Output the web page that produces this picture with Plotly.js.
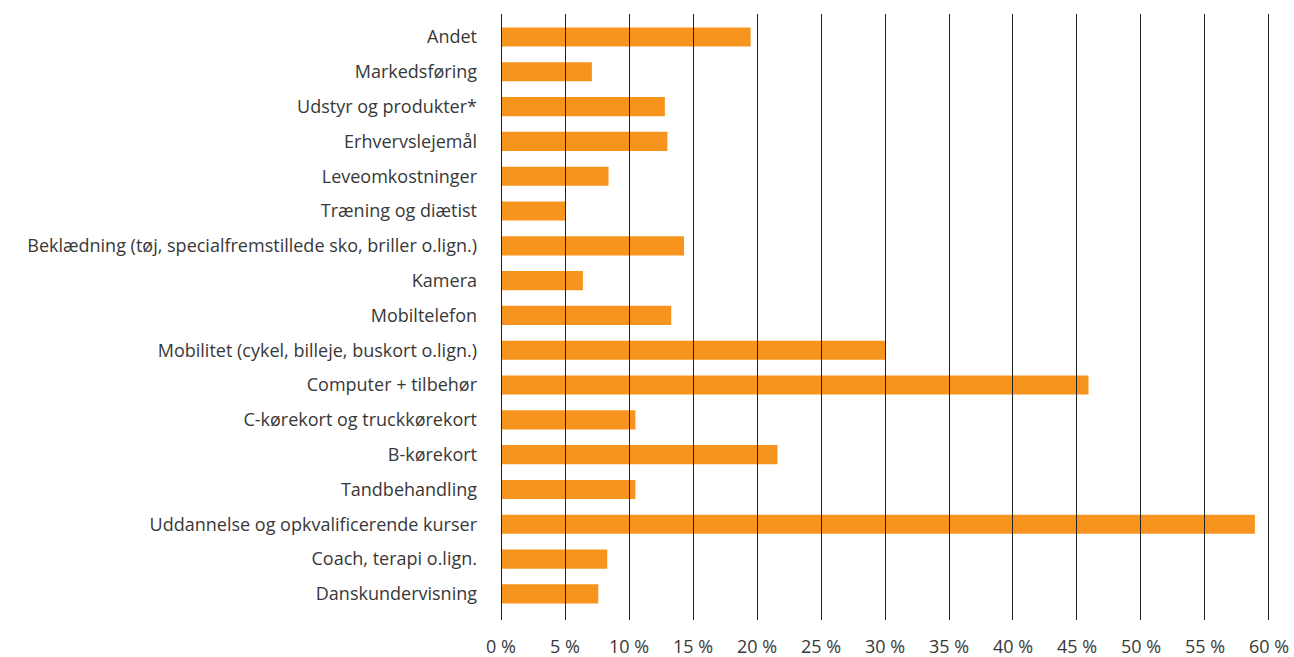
<!DOCTYPE html>
<html>
<head>
<meta charset="utf-8">
<script src="https://cdn.plot.ly/plotly-3.0.1.min.js"></script>
<style>html,body{margin:0;padding:0;background:#fff;}#chart{width:1294px;height:657px;}</style>
</head>
<body>
<div id="chart"></div>
<script>
const categories = [
  "Andet",
  "Markedsføring",
  "Udstyr og produkter*",
  "Erhvervslejemål",
  "Leveomkostninger",
  "Træning og diætist",
  "Beklædning (tøj, specialfremstillede sko, briller o.lign.)",
  "Kamera",
  "Mobiltelefon",
  "Mobilitet (cykel, billeje, buskort o.lign.)",
  "Computer + tilbehør",
  "C-kørekort og truckkørekort",
  "B-kørekort",
  "Tandbehandling",
  "Uddannelse og opkvalificerende kurser",
  "Coach, terapi o.lign.",
  "Danskundervisning"
];
const values = [19.5, 7.1, 12.8, 13.0, 8.4, 5.0, 14.3, 6.4, 13.3, 30.0, 45.9, 10.5, 21.6, 10.5, 58.9, 8.3, 7.6];
const tickValues = [0, 5, 10, 15, 20, 25, 30, 35, 40, 45, 50, 55, 60];
const tickLabels = ["0 %", "5 %", "10 %", "15 %", "20 %", "25 %", "30 %", "35 %", "40 %", "45 %", "50 %", "55 %", "60 %"];

const plotTop = 14, plotBottom = 620;
const data = [{
  type: 'bar',
  orientation: 'h',
  y: categories,
  x: values,
  marker: {color: '#F7941D'},
  width: 0.55,
  hoverinfo: 'x+y'
}];
const layout = {
  width: 1294, height: 657,
  margin: {l: 500, r: 24, t: plotTop, b: 657 - plotBottom},
  paper_bgcolor: '#fff', plot_bgcolor: '#fff',
  font: {family: '"Open Sans", sans-serif', size: 18, color: '#383838'},
  showlegend: false,
  xaxis: {
    range: [-0.08, 60.08],
    tickvals: tickValues,
    ticktext: tickLabels,
    showgrid: false,
    zeroline: false,
    showline: false,
    ticks: 'inside',
    ticklen: plotBottom - plotTop,
    tickwidth: 1,
    tickcolor: '#222',
    layer: 'above traces',
    ticklabelstandoff: 14,
    tickfont: {size: 18, color: '#383838'},
    fixedrange: true
  },
  yaxis: {
    type: 'category',
    range: [16.75, -0.66],
    showgrid: false,
    zeroline: false,
    showline: false,
    ticks: '',
    ticklabelstandoff: 22,
    tickfont: {size: 18, color: '#383838'},
    fixedrange: true
  }
};
Plotly.newPlot('chart', data, layout, {displayModeBar: false, staticPlot: true});
</script>
</body>
</html>
